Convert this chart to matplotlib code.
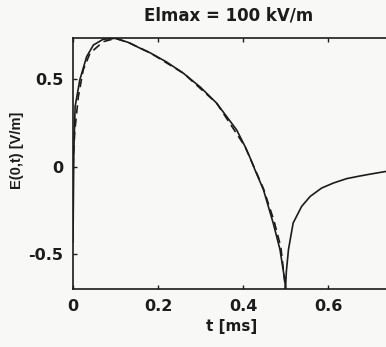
import matplotlib.pyplot as plt

# solid curve
t_solid = [0.0, 0.002, 0.005, 0.016, 0.032, 0.048, 0.071, 0.10, 0.13, 0.166, 0.181,
           0.22, 0.26, 0.30, 0.338, 0.385, 0.405, 0.416, 0.428, 0.448, 0.471, 0.487,
           0.499, 0.500, 0.502, 0.507, 0.518, 0.538, 0.558, 0.585, 0.613, 0.644,
           0.675, 0.70, 0.736, 0.80]
e_solid = [-0.43, 0.10, 0.345, 0.497, 0.63, 0.697, 0.73, 0.735, 0.712, 0.669, 0.653,
           0.60, 0.535, 0.455, 0.364, 0.211, 0.115, 0.055, -0.017, -0.131, -0.322, -0.474,
           -0.66, -0.70, -0.60, -0.474, -0.322, -0.227, -0.17, -0.122, -0.093, -0.068,
           -0.053, -0.042, -0.027, -0.01]

# dashed curve
t_dash = [0.0, 0.004, 0.0125, 0.024, 0.04, 0.071, 0.10, 0.13, 0.181, 0.26, 0.338,
          0.405, 0.448, 0.473, 0.489, 0.500]
e_dash = [0.0, 0.20, 0.40, 0.554, 0.65, 0.716, 0.735, 0.712, 0.653, 0.535, 0.364,
          0.115, -0.125, -0.31, -0.46, -0.70]

xticks = [0, 0.2, 0.4, 0.6]
xtick_labels = ['0', '0.2', '0.4', '0.6']
yticks = [-0.5, 0, 0.5]
ytick_labels = ['-0.5', '0', '0.5']

plt.rcParams['font.family'] = ['DejaVu Sans']

fig = plt.figure(figsize=(3.86, 3.47), dpi=100, facecolor='#f8f8f6')
ax = fig.add_axes([73 / 386, 58 / 347, 340 / 386, 251.5 / 347])
ax.set_facecolor('#f8f8f6')

ink = '#1c1c1c'
ax.plot(t_solid, e_solid, color=ink, lw=1.2)
ax.plot(t_dash, e_dash, color=ink, lw=1.2, ls=(0, (5, 3)))

ax.set_xlim(0, 0.8)
ax.set_ylim(-0.70, 0.74)
ax.set_xticks(xticks)
ax.set_xticklabels(xtick_labels)
ax.set_yticks(yticks)
ax.set_yticklabels(ytick_labels)
ax.tick_params(direction='in', length=3, width=1, colors=ink, labelsize=11.5,
               top=True, right=False, pad=7)
for lab in ax.get_xticklabels() + ax.get_yticklabels():
    lab.set_fontweight('bold')
for s in ax.spines.values():
    s.set_color(ink)
    s.set_linewidth(1.2)
ax.spines['right'].set_visible(False)

fig.text(229 / 386, 1 - 15 / 347, 'Elmax = 100 kV/m', ha='center', va='center',
         fontsize=12, fontweight='bold', color=ink)
fig.text(232 / 386, 1 - 327 / 347, 't [ms]', ha='center', va='center',
         fontsize=11, fontweight='bold', color=ink)
fig.text(17 / 386, 1 - 150 / 347, 'E(0,t) [V/m]', ha='center', va='center',
         rotation=90, fontsize=10.5, fontweight='bold', color=ink,
         family=['Liberation Sans', 'DejaVu Sans'])

fig.savefig('out.png', dpi=100, facecolor=fig.get_facecolor())
